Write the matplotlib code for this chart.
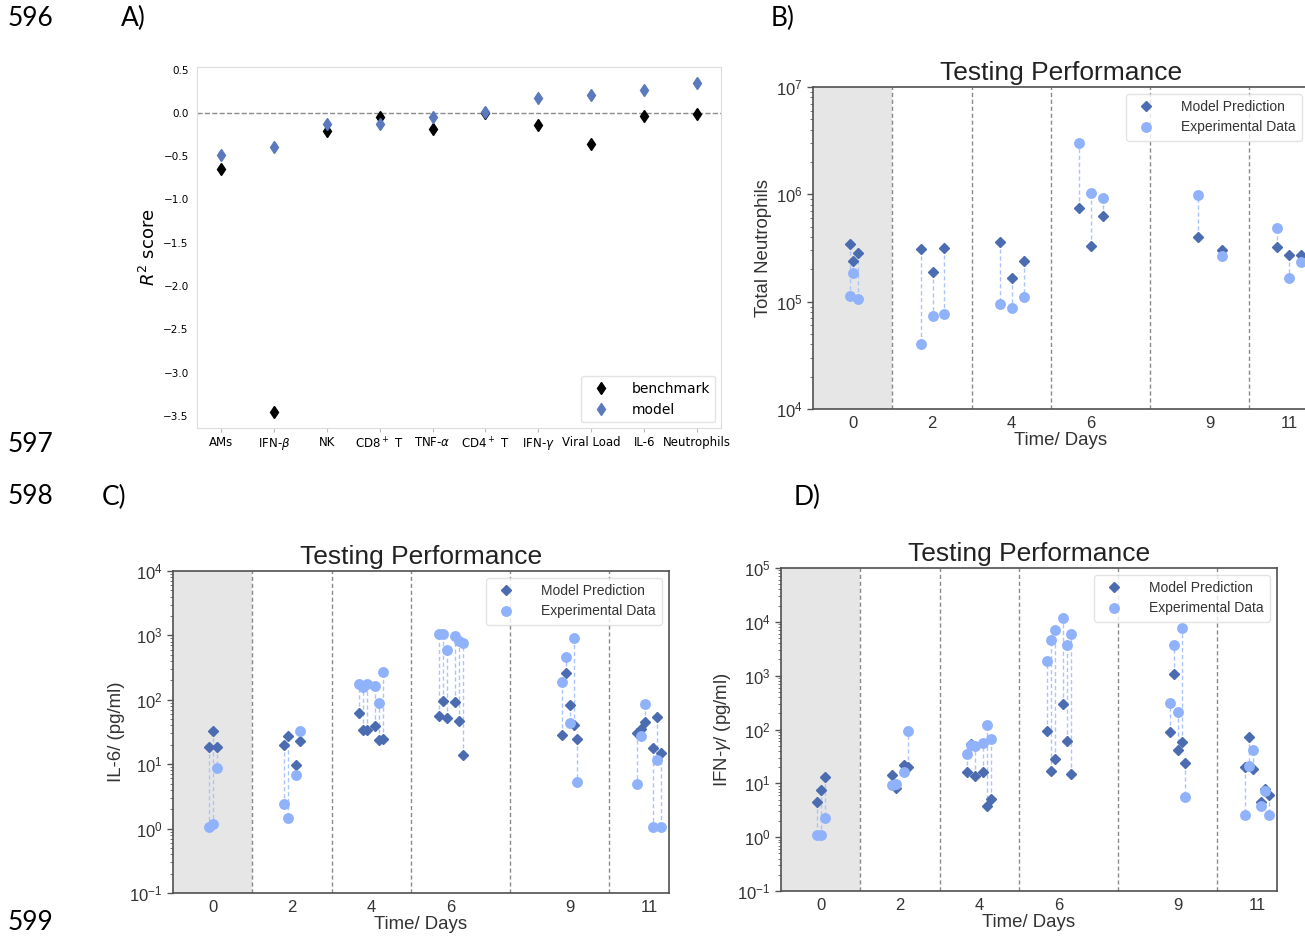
import matplotlib
matplotlib.use('Agg')
import matplotlib.pyplot as plt
import numpy as np

# ---------------- data ----------------
A_categories = ['AMs', 'IFN-$\\beta$', 'NK', 'CD8$^+$ T', 'TNF-$\\alpha$', 'CD4$^+$ T',
                'IFN-$\\gamma$', 'Viral Load', 'IL-6', 'Neutrophils']
A_benchmark = [-0.65, -3.45, -0.21, -0.045, -0.19, 0.0, -0.14, -0.36, -0.04, -0.01]
A_model = [-0.485, -0.39, -0.125, -0.13, -0.045, 0.01, 0.17, 0.205, 0.26, 0.34]

day_ticks = [0, 2, 4, 6, 9, 11]
day_separators = [1, 3, 5, 7.5, 10]

# Panel B: total neutrophils
B_x = [-0.08, 0.0, 0.13, 1.72, 2.02, 2.31, 3.71, 4.01, 4.31, 5.71, 6.01, 6.31,
       8.71, 9.30, 10.70, 11.0, 11.30]
B_model = [3.45e5, 2.4e5, 2.86e5, 3.12e5, 1.87e5, 3.16e5, 3.57e5, 1.67e5, 2.37e5,
           7.45e5, 3.28e5, 6.3e5, 3.98e5, 3.05e5, 3.24e5, 2.72e5, 2.74e5]
B_exp = [1.14e5, 1.86e5, 1.07e5, 4.04e4, 7.3e4, 7.6e4, 9.6e4, 8.66e4, 1.1e5,
         3.0e6, 1.04e6, 9.2e5, 9.86e5, 2.66e5, 4.87e5, 1.67e5, 2.36e5]

# Panels C & D share sampling positions
CD_x = [-0.09, 0.0, 0.12,
        1.80, 1.90, 2.10, 2.20,
        3.70, 3.80, 3.90, 4.10, 4.20, 4.30,
        5.70, 5.80, 5.90, 6.10, 6.20, 6.30,
        8.80, 8.90, 9.00, 9.10, 9.19,
        10.69, 10.79, 10.89, 11.09, 11.19, 11.29]

C_model = [18.8, 32.2, 18.8,
           20.2, 27.2, 9.6, 23.1,
           61.4, 34.2, 33.4, 39.0, 23.9, 24.5,
           55.7, 95.3, 51.3, 93.0, 46.6, 13.8,
           28.3, 260, 82.6, 40.8, 24.2,
           30.7, 35.4, 46.0, 17.9, 53.8, 15.0]
C_exp = [1.06, 1.17, 8.6,
         2.39, 1.45, 6.9, 33.3,
         177, 157, 177, 165, 88.7, 272,
         1037, 1062, 584, 965, 807, 769,
         186, 466, 42.9, 909, 5.3,
         5.0, 27.2, 86.7, 1.06, 11.5, 1.06]

D_model = [4.5, 7.6, 13.1,
           14.2, 8.3, 21.5, 20.0,
           16.0, 54.0, 13.6, 16.2, 3.8, 5.2,
           93.0, 16.9, 28.0, 298, 60.0, 14.7,
           88.0, 1070, 41.0, 58.0, 24.2,
           19.7, 72.8, 18.1, 4.44, 7.9, 6.2]
D_exp = [1.12, 1.12, 2.28,
         9.3, 9.8, 16.2, 94.0,
         35.3, 51.0, 50.0, 55.6, 119, 67.0,
         1862, 4510, 7090, 11660, 3690, 5890,
         315, 3720, 210, 7640, 5.5,
         2.63, 20.6, 41.9, 3.86, 7.2, 2.56]

# ---------------- style ----------------
W, H = 1305, 936
plt.rcParams['font.family'] = ['Liberation Sans', 'DejaVu Sans']
plt.rcParams['mathtext.fontset'] = 'custom'
plt.rcParams['mathtext.rm'] = 'Liberation Sans'
plt.rcParams['mathtext.it'] = 'Liberation Sans:italic'
plt.rcParams['mathtext.bf'] = 'Liberation Sans:bold'

fig = plt.figure(figsize=(W / 100, H / 100), dpi=100)
fig.patch.set_facecolor('white')


def add_ax(x0, y0, x1, y1):
    return fig.add_axes([x0 / W, 1 - y1 / H, (x1 - x0) / W, (y1 - y0) / H])


# page annotations (line numbers & panel letters)
doc_font = dict(family=['Lato', 'DejaVu Sans'], fontsize=19, va='center', ha='left')
fig.text(8 / W, 1 - 18 / H, '596', **doc_font)
fig.text(121 / W, 1 - 18 / H, 'A)', **doc_font)
fig.text(771 / W, 1 - 18 / H, 'B)', **doc_font)
fig.text(8 / W, 1 - 445 / H, '597', **doc_font)
fig.text(8 / W, 1 - 497 / H, '598', **doc_font)
fig.text(102 / W, 1 - 497 / H, 'C)', **doc_font)
fig.text(794 / W, 1 - 497 / H, 'D)', **doc_font)
fig.text(8 / W, 1 - 922 / H, '599', **doc_font)

# ---------------- Panel A ----------------
axA = add_ax(197, 67, 721, 428)
xA = np.arange(len(A_categories))
axA.axhline(0, color='#8c8c8c', ls='--', lw=1, zorder=0)
axA.plot(xA, A_benchmark, 'd', color='black', ms=6.5, ls='none', label='benchmark', zorder=3)
axA.plot(xA, A_model, 'd', color='#5b79bd', ms=6.5, ls='none', label='model', zorder=4)
axA.set_xticks(xA)
axA.set_xticklabels(A_categories, fontsize=8.5, family='DejaVu Sans',
                    math_fontfamily='dejavusans')
axA.set_yticks([0.5, 0.0, -0.5, -1.0, -1.5, -2.0, -2.5, -3.0, -3.5])
for lab in axA.get_yticklabels():
    lab.set_family('DejaVu Sans')
    lab.set_math_fontfamily('dejavusans')
    lab.set_fontsize(7.5)
axA.tick_params(axis='y', length=0, pad=6)
axA.tick_params(axis='x', length=3, color='#bbbbbb', pad=3)
for s in axA.spines.values():
    s.set_color('#dddddd')
    s.set_linewidth(0.8)
axA.set_ylabel('$R^2$ score', fontsize=13, family='DejaVu Sans',
               math_fontfamily='dejavusans', labelpad=3)
legA = axA.legend(loc='lower right', frameon=True, borderaxespad=0.4,
                  handletextpad=1.2, prop={'family': 'DejaVu Sans', 'size': 10})
legA.get_frame().set_edgecolor('#dddddd')
axA.xaxis.offsetText.set_visible(False)
axA.yaxis.offsetText.set_visible(False)


# ---------------- performance panels ----------------
def perf_panel(ax, x, model, exp, ylim, ylabel, xlim=(-1, 11.5)):
    ax.axvspan(-1, 1, color='#e6e6e6', zorder=0, lw=0)
    for v in day_separators:
        ax.axvline(v, color='#8a8a8a', ls=(0, (3, 2)), lw=1, zorder=1)
    ax.vlines(x, model, exp, colors='#aac5fb', linestyles=(0, (3, 2)), lw=1, zorder=2)
    ax.plot(x, model, 'D', color='#4b6cb0', ms=5.6, ls='none',
            label='Model Prediction', zorder=3)
    ax.plot(x, exp, 'o', color='#90b2fb', ms=6.8, ls='none',
            label='Experimental Data', zorder=4)
    ax.set_yscale('log')
    ax.set_ylim(*ylim)
    ax.set_xlim(*xlim)
    ax.set_xticks(day_ticks)
    ax.tick_params(axis='x', length=0, pad=5, labelsize=12, labelcolor='#333333')
    ax.tick_params(axis='y', which='major', length=4, width=1, color='#555555',
                   labelsize=12, labelcolor='#333333')
    ax.tick_params(axis='y', which='minor', length=2.5, width=0.7, color='#777777')
    for s in ax.spines.values():
        s.set_color('#505050')
        s.set_linewidth(1.2)
    ax.set_title('Testing Performance', fontsize=19, color='#222222', pad=5)
    ax.set_xlabel('Time/ Days', fontsize=13.4, color='#333333', labelpad=1)
    ax.set_ylabel(ylabel, fontsize=13.4, color='#333333', labelpad=3)
    leg = ax.legend(loc='upper right', fontsize=10, frameon=True, borderaxespad=0.5,
                    handletextpad=1.5, labelspacing=0.45, borderpad=0.45)
    leg.get_frame().set_edgecolor('#dddddd')
    for t in leg.get_texts():
        t.set_color('#333333')
    ax.xaxis.offsetText.set_visible(False)
    ax.yaxis.offsetText.set_visible(False)
    return ax


axB = add_ax(813, 87, 1309, 409)
perf_panel(axB, B_x, B_model, B_exp, (1e4, 1e7), 'Total Neutrophils')

axC = add_ax(173, 571, 669, 893)
perf_panel(axC, CD_x, C_model, C_exp, (1e-1, 1e4), 'IL-6/ (pg/ml)')

axD = add_ax(781, 568, 1277, 891)
perf_panel(axD, CD_x, D_model, D_exp, (1e-1, 1e5), 'IFN-$\\gamma$/ (pg/ml)')

fig.savefig('out.png', dpi=100, facecolor='white')
